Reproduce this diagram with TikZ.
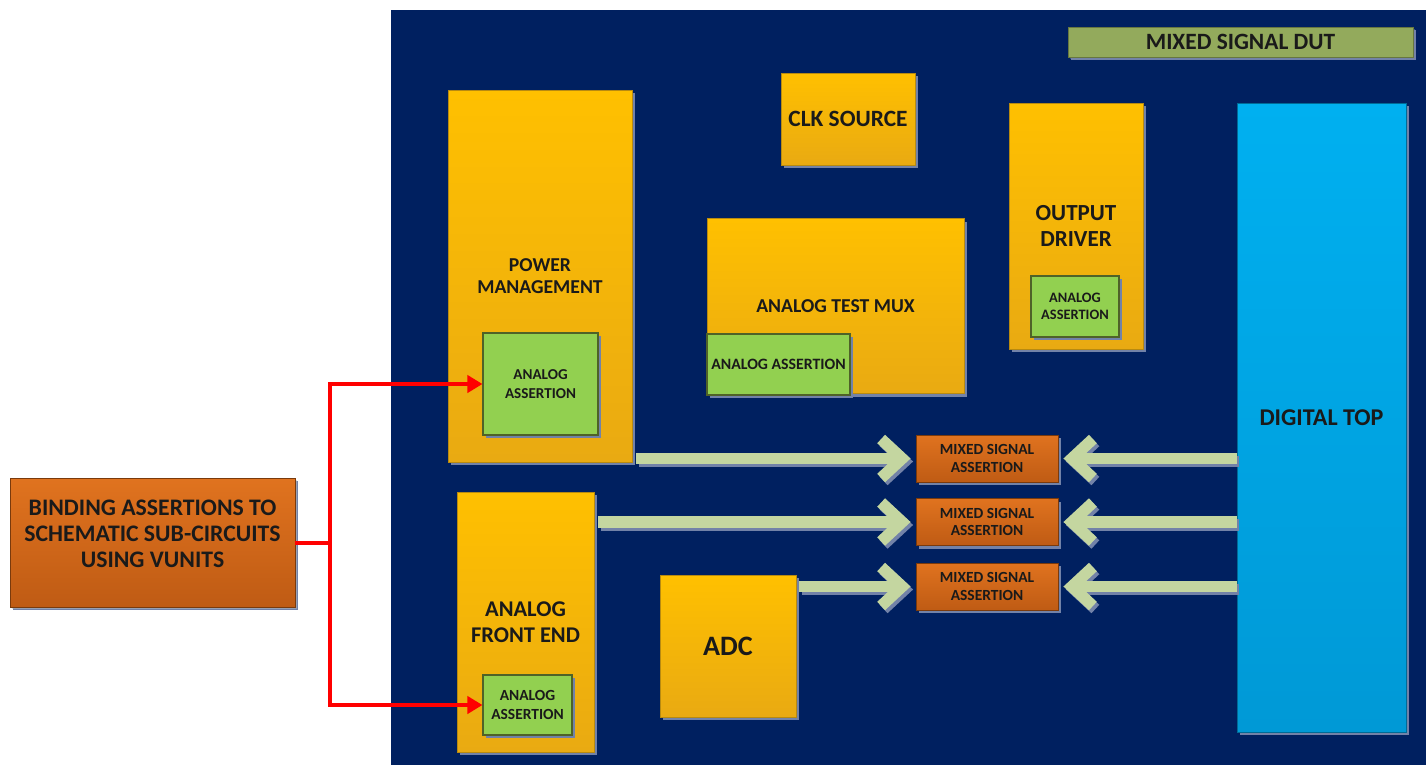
\documentclass[tikz,border=0pt]{standalone}
\usepackage{fontspec}
\setmainfont{Carlito}
\usetikzlibrary{arrows.meta,shadows}
\definecolor{navy}{HTML}{002060}
\definecolor{yelT}{HTML}{FFC000}
\definecolor{yelB}{HTML}{E9AA12}
\definecolor{yelD}{HTML}{B88A10}
\definecolor{grnF}{HTML}{92D050}
\definecolor{grnD}{HTML}{4F6228}
\definecolor{orT}{HTML}{E0731F}
\definecolor{orB}{HTML}{BF5B14}
\definecolor{orD}{HTML}{7A3A0C}
\definecolor{bluT}{HTML}{00B0F0}
\definecolor{bluB}{HTML}{0099D6}
\definecolor{olive}{HTML}{93AA5C}
\definecolor{arrG}{HTML}{C4D6A0}
\definecolor{shad}{HTML}{7282A8}
\definecolor{txt}{HTML}{1A1A1A}
\tikzset{
  box/.style={rectangle, inner sep=0pt, align=center, text=txt, font=\bfseries,
    drop shadow={shadow xshift=0.06cm, shadow yshift=-0.06cm, fill=shad, opacity=1}},
  ybox/.style={box, draw=yelD, line width=0.5pt, top color=yelT, bottom color=yelB},
  gbox/.style={box, draw=grnD, line width=0.6pt, fill=grnF},
  obox/.style={box, draw=orD, line width=0.5pt, top color=orT, bottom color=orB},
  bbox/.style={box, draw=bluB!70!black, line width=0.5pt, top color=bluT, bottom color=bluB},
  sz/.style n args={2}{minimum width=#1*0.02cm, minimum height=#2*0.02cm},
  garrow/.style={draw=arrG, line width=0.23cm, -{Straight Barb[length=0.42cm, width=0.78cm]}, shorten >=0.1cm},
  garrowsh/.style={draw=shad, line width=0.23cm, -{Straight Barb[length=0.42cm, width=0.78cm]}, shorten >=0.1cm},
  rline/.style={draw=red, line width=0.08cm},
  rarrow/.style={rline, -{Triangle[length=0.3cm, width=0.34cm]}},
}
\begin{document}
\begin{tikzpicture}[x=0.02cm, y=-0.02cm]
\useasboundingbox (0,0) rectangle (1426,765);
\fill[white] (0,0) rectangle (1426,765);
% DUT background
\fill[navy] (391,10) rectangle (1426,765);
\node[box, fill=olive, draw=olive!70!black, line width=0.4pt, sz={345}{30}, font=\bfseries\fontsize{13.3}{15}\selectfont, drop shadow={shadow xshift=0.04cm, shadow yshift=-0.04cm, fill=shad}] (dut) at (1240.5,42) {MIXED SIGNAL DUT};

% blocks
\node[ybox, sz={184}{372}, font=\bfseries\fontsize{11.2}{12.5}\selectfont] (pm) at (540,276) {POWER\\MANAGEMENT};
\node[gbox, sz={115}{102}, font=\bfseries\fontsize{8.6}{10.8}\selectfont] (pma) at (540.5,384) {ANALOG\\ASSERTION};

\node[ybox, sz={134}{92}, font=\bfseries\fontsize{13.3}{15}\selectfont] (clk) at (848,119) {CLK SOURCE};

\node[ybox, sz={257}{175}, font=\bfseries\fontsize{11.2}{13}\selectfont] (atm) at (835.5,306) {ANALOG TEST MUX};
\node[gbox, sz={143}{61}, font=\bfseries\fontsize{9}{10}\selectfont] (atma) at (778.5,364.5) {ANALOG ASSERTION};

\node[ybox, sz={134}{246}, font=\bfseries\fontsize{13.1}{14.5}\selectfont] (od) at (1076,226) {OUTPUT\\DRIVER};
\node[gbox, sz={88}{61}, font=\bfseries\fontsize{8.2}{10}\selectfont] (oda) at (1075,306.5) {ANALOG\\ASSERTION};

\node[bbox, sz={169}{629}, font=\bfseries\fontsize{13.7}{15}\selectfont] (dt) at (1321.5,417.5) {DIGITAL TOP};

\node[ybox, sz={137}{260}, font=\bfseries\fontsize{12.8}{14.8}\selectfont] (afe) at (525.5,622) {ANALOG\\FRONT END};
\node[gbox, sz={89}{60}, font=\bfseries\fontsize{8.8}{10.5}\selectfont] (afea) at (527.5,705) {ANALOG\\ASSERTION};

\node[ybox, sz={136}{142}, font=\bfseries\fontsize{16}{18}\selectfont] (adc) at (728,646) {ADC};

\node[obox, sz={142}{47}, font=\bfseries\fontsize{8.8}{10}\selectfont] (ms1) at (987,458.5) {MIXED SIGNAL\\ASSERTION};
\node[obox, sz={142}{47}, font=\bfseries\fontsize{8.8}{10}\selectfont] (ms2) at (987,522) {MIXED SIGNAL\\ASSERTION};
\node[obox, sz={142}{47}, font=\bfseries\fontsize{8.8}{10}\selectfont] (ms3) at (987,586.5) {MIXED SIGNAL\\ASSERTION};

\node[obox, sz={285}{129}, draw=orD, drop shadow={shadow xshift=0.04cm, shadow yshift=-0.04cm, fill=gray!50},
  label={[align=center, text=txt, font=\bfseries\fontsize{13.5}{14.8}\selectfont, yshift=0.17cm]center:BINDING ASSERTIONS TO\\SCHEMATIC SUB-CIRCUITS\\USING VUNITS}] (bind) at (152.5,542.5) {};

% green arrows (shadow then arrow)
\foreach \s/\t/\dx in {pm/ms1/4, afe/ms2/4, adc/ms3/3}{
  \draw[garrowsh] ([xshift=\dx*0.02cm+0.05cm, yshift=-0.06cm]\s.east |- \t.west) -- ([xshift=0.05cm, yshift=-0.06cm]\t.west);
  \draw[garrow] ([xshift=\dx*0.02cm]\s.east |- \t.west) -- (\t.west);
}
\foreach \t in {ms1, ms2, ms3}{
  \draw[garrowsh] ([xshift=0.05cm, yshift=-0.06cm]dt.west |- \t.east) -- ([xshift=0.05cm, yshift=-0.06cm]\t.east);
  \draw[garrow] (dt.west |- \t.east) -- (\t.east);
}

% red connectors
\coordinate (j) at (330,542.5);
\draw[rline] (bind.east) -- (j);
\draw[rarrow] (j |- bind.east) |- (pma.west);
\draw[rarrow] (j |- bind.east) |- (afea.west);
\end{tikzpicture}
\end{document}
